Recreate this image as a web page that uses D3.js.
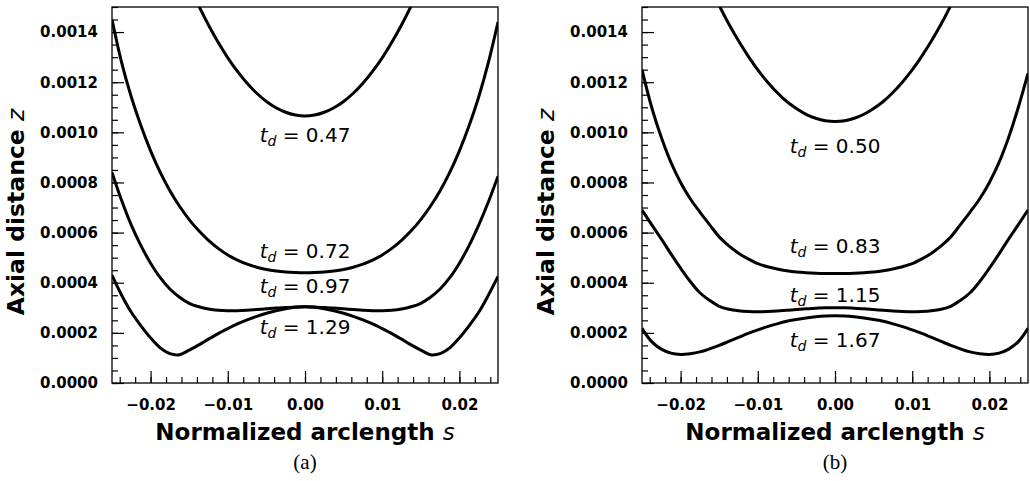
<!DOCTYPE html>
<html>
<head>
<meta charset="utf-8">
<script src="https://cdn.jsdelivr.net/npm/d3@7"></script>
<style>
    body { margin: 0; background: #fff; }
    svg { display: block; }
    .tick text { font-family: "DejaVu Sans", sans-serif; font-weight: bold; font-size: 15px; fill: #000; }
    .tick line { stroke: #000; stroke-width: 1.2; }
</style>
</head>
<body>
<div id="chart"></div>
<script>
// arclength grid (shared by all curves)
var sGrid = [-0.025, -0.02375, -0.0225, -0.02125, -0.02, -0.01875, -0.0175, -0.01625, -0.015, -0.01375,
    -0.0125, -0.01125, -0.01, -0.00875, -0.0075, -0.00625, -0.005, -0.00375, -0.0025, -0.00125, 0,
    0.00125, 0.0025, 0.00375, 0.005, 0.00625, 0.0075, 0.00875, 0.01, 0.01125, 0.0125,
    0.01375, 0.015, 0.01625, 0.0175, 0.01875, 0.02, 0.02125, 0.0225, 0.02375, 0.025];

// panel (a)
var labelsA = ["0.47", "0.72", "0.97", "1.29"];
var labelZA = [0.000963, 0.000497, 0.000358, 0.000195];
var zA047 = [null, null, null, null, null, null, null, 0.001678, 0.001587, 0.001504, 0.001428, 0.001359, 0.001297, 0.001243, 0.001196, 0.001156, 0.001123, 0.001098, 0.001080, 0.001069, 0.001065, 0.001069, 0.001080, 0.001098, 0.001123, 0.001156, 0.001196, 0.001243, 0.001297, 0.001359, 0.001428, 0.001504, 0.001587, 0.001678, null, null, null, null, null, null, null];
var zA072 = [0.001450, 0.001278, 0.001141, 0.001026, 0.000926, 0.000840, 0.000767, 0.000705, 0.000652, 0.000607, 0.000569, 0.000537, 0.000511, 0.000490, 0.000474, 0.000462, 0.000453, 0.000447, 0.000443, 0.000441, 0.000440, 0.000441, 0.000443, 0.000447, 0.000453, 0.000462, 0.000474, 0.000490, 0.000511, 0.000537, 0.000569, 0.000607, 0.000652, 0.000705, 0.000767, 0.000840, 0.000926, 0.001026, 0.001141, 0.001278, 0.001440];
var zA097 = [0.000840, 0.000728, 0.000630, 0.000548, 0.000478, 0.000420, 0.000375, 0.000342, 0.000318, 0.000304, 0.000295, 0.000290, 0.000288, 0.000288, 0.000290, 0.000293, 0.000296, 0.000299, 0.000301, 0.000303, 0.000304, 0.000303, 0.000301, 0.000299, 0.000296, 0.000293, 0.000290, 0.000288, 0.000288, 0.000290, 0.000295, 0.000304, 0.000318, 0.000342, 0.000375, 0.000420, 0.000478, 0.000548, 0.000630, 0.000722, 0.000825];
var zA129 = [0.000430, 0.000350, 0.000282, 0.000228, 0.000180, 0.000140, 0.000117, 0.000113, 0.000131, 0.000152, 0.000175, 0.000197, 0.000217, 0.000236, 0.000252, 0.000266, 0.000278, 0.000288, 0.000296, 0.000302, 0.000304, 0.000302, 0.000296, 0.000288, 0.000278, 0.000266, 0.000252, 0.000236, 0.000217, 0.000197, 0.000175, 0.000152, 0.000131, 0.000113, 0.000117, 0.000140, 0.000180, 0.000228, 0.000282, 0.000350, 0.000425];

// panel (b)
var labelsB = ["0.50", "0.83", "1.15", "1.67"];
var labelZB = [0.000919, 0.000517, 0.000324, 0.000142];
var zB050 = [null, null, null, null, null, null, 0.001673, 0.001586, 0.001506, 0.001432, 0.001365, 0.001304, 0.001249, 0.001201, 0.001159, 0.001123, 0.001095, 0.001072, 0.001056, 0.001046, 0.001043, 0.001046, 0.001056, 0.001072, 0.001095, 0.001123, 0.001159, 0.001201, 0.001249, 0.001304, 0.001365, 0.001432, 0.001506, 0.001586, 0.001673, null, null, null, null, null, null];
var zB083 = [0.001250, 0.001100, 0.000980, 0.000880, 0.000800, 0.000735, 0.000682, 0.000632, 0.000583, 0.000547, 0.000518, 0.000495, 0.000476, 0.000464, 0.000455, 0.000448, 0.000443, 0.000440, 0.000438, 0.000437, 0.000437, 0.000437, 0.000438, 0.000440, 0.000443, 0.000448, 0.000455, 0.000464, 0.000476, 0.000495, 0.000518, 0.000547, 0.000583, 0.000632, 0.000682, 0.000735, 0.000800, 0.000880, 0.000980, 0.001100, 0.001235];
var zB115 = [0.000690, 0.000632, 0.000575, 0.000515, 0.000458, 0.000405, 0.000360, 0.000330, 0.000306, 0.000294, 0.000288, 0.000285, 0.000284, 0.000285, 0.000287, 0.000290, 0.000293, 0.000296, 0.000298, 0.000300, 0.000300, 0.000300, 0.000298, 0.000296, 0.000293, 0.000290, 0.000287, 0.000285, 0.000284, 0.000285, 0.000288, 0.000294, 0.000306, 0.000330, 0.000360, 0.000405, 0.000458, 0.000515, 0.000575, 0.000632, 0.000690];
var zB167 = [0.000218, 0.000165, 0.000135, 0.000119, 0.000114, 0.000117, 0.000124, 0.000136, 0.000150, 0.000166, 0.000182, 0.000198, 0.000212, 0.000225, 0.000236, 0.000246, 0.000253, 0.000259, 0.000264, 0.000267, 0.000268, 0.000267, 0.000264, 0.000259, 0.000253, 0.000246, 0.000236, 0.000225, 0.000212, 0.000198, 0.000182, 0.000166, 0.000150, 0.000136, 0.000124, 0.000117, 0.000114, 0.000119, 0.000135, 0.000165, 0.000218];

// axis ticks
var xTicks = [-0.02, -0.01, 0.00, 0.01, 0.02];
var yTicks = [0.0000, 0.0002, 0.0004, 0.0006, 0.0008, 0.0010, 0.0012, 0.0014];

var width = 1030;
var height = 481;

var svg = d3.select("#chart")
    .append("svg")
    .attr("width", width)
    .attr("height", height);

function Panel(id, left, curves, labels, labelZ, caption) {
    var top = 7, w = 386, h = 376;

    var xScale = d3.scaleLinear().domain([-0.025, 0.025]).range([0, w]);
    var yScale = d3.scaleLinear().domain([0, 0.0015]).range([h, 0]);

    var g = svg.append("g")
        .attr("transform", "translate(" + left + "," + top + ")");

    g.append("clipPath")
        .attr("id", "clip" + id)
        .append("rect")
        .attr("width", w)
        .attr("height", h);

    // 曲線
    var line = d3.line()
        .defined(function (d) { return d[1] != null; })
        .x(function (d) { return xScale(d[0]); })
        .y(function (d) { return yScale(d[1]); })
        .curve(d3.curveCatmullRom.alpha(0.5));

    g.append("g")
        .attr("clip-path", "url(#clip" + id + ")")
        .selectAll("path")
        .data(curves)
        .enter()
        .append("path")
        .attr("d", function (zs) {
            return line(sGrid.map(function (s, i) { return [s, zs[i]]; }));
        })
        .attr("fill", "none")
        .attr("stroke", "#000")
        .attr("stroke-width", 3);

    // minor ticks
    var xMinor = d3.axisBottom(xScale)
        .tickValues(d3.range(-0.024, 0.0245, 0.002))
        .tickSize(-6).tickSizeOuter(0).tickFormat("");
    var yMinor = d3.axisLeft(yScale)
        .tickValues(d3.range(0, 0.00151, 0.00005))
        .tickSize(-6).tickSizeOuter(0).tickFormat("");
    g.append("g").attr("transform", "translate(0," + h + ")").call(xMinor);
    g.append("g").call(yMinor);

    // major ticks
    var xAxis = d3.axisBottom(xScale)
        .tickValues(xTicks)
        .tickSize(-12).tickSizeOuter(0).tickPadding(16)
        .tickFormat(d3.format(".2f"));
    var yAxis = d3.axisLeft(yScale)
        .tickValues(yTicks)
        .tickSize(-12).tickSizeOuter(0).tickPadding(14)
        .tickFormat(d3.format(".4f"));
    g.append("g").attr("transform", "translate(0," + h + ")").call(xAxis);
    g.append("g").call(yAxis);
    g.selectAll(".domain").remove();

    // frame
    g.append("rect")
        .attr("width", w)
        .attr("height", h)
        .attr("fill", "none")
        .attr("stroke", "#000")
        .attr("stroke-width", 1.3);

    // t_d labels
    var lab = g.append("g")
        .selectAll("text")
        .data(labels)
        .enter()
        .append("text")
        .attr("x", xScale(0))
        .attr("y", function (d, i) { return yScale(labelZ[i]); })
        .attr("text-anchor", "middle")
        .style("font-family", "DejaVu Sans")
        .style("font-size", "20px");
    lab.append("tspan").style("font-style", "italic").text("t");
    lab.append("tspan").style("font-style", "italic").style("font-size", "14px").attr("dy", 4).text("d");
    lab.append("tspan").attr("dy", -4).text(" = ");
    lab.append("tspan").text(function (d) { return d; });

    // axis labels
    var xl = g.append("text")
        .attr("x", w / 2)
        .attr("y", 440 - top)
        .attr("text-anchor", "middle")
        .style("font-family", "DejaVu Sans")
        .style("font-weight", "bold")
        .style("font-size", "23px");
    xl.append("tspan").text("Normalized arclength ");
    xl.append("tspan").style("font-weight", "normal").style("font-style", "italic").text("s");

    var yl = g.append("text")
        .attr("transform", "translate(" + (24 - 112) + "," + (212 - top) + ") rotate(-90)")
        .attr("text-anchor", "middle")
        .style("font-family", "DejaVu Sans")
        .style("font-weight", "bold")
        .style("font-size", "23.5px");
    yl.append("tspan").text("Axial distance ");
    yl.append("tspan").style("font-weight", "normal").style("font-style", "italic").text("z");

    g.append("text")
        .attr("x", w / 2)
        .attr("y", 469 - top)
        .attr("text-anchor", "middle")
        .style("font-family", "Liberation Serif")
        .style("font-size", "21px")
        .text(caption);
}

Panel("a", 112, [zA047, zA072, zA097, zA129], labelsA, labelZA, "(a)");
Panel("b", 642, [zB050, zB083, zB115, zB167], labelsB, labelZB, "(b)");
</script>
</body>
</html>
